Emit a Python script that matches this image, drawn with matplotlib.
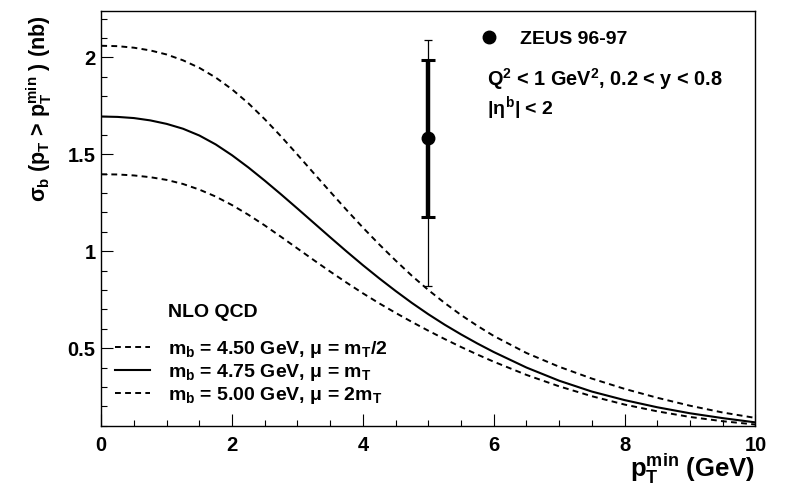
import matplotlib
matplotlib.use("Agg")
import matplotlib.pyplot as plt
from matplotlib.ticker import MultipleLocator

# NLO QCD predictions
pt_min = [0, 0.25, 0.5, 0.75, 1, 1.25, 1.5, 1.75, 2, 2.25, 2.5, 2.75, 3, 3.25, 3.5, 3.75,
          4, 4.25, 4.5, 4.75, 5, 5.25, 5.5, 5.75, 6, 6.5, 7, 7.5, 8, 8.5, 9, 9.5, 10]
sigma_upper = [2.06, 2.058, 2.05, 2.036, 2.015, 1.985, 1.946, 1.896, 1.835, 1.763, 1.681,
               1.592, 1.498, 1.402, 1.307, 1.213, 1.122, 1.035, 0.952, 0.873, 0.800, 0.733,
               0.671, 0.615, 0.563, 0.475, 0.404, 0.343, 0.290, 0.244, 0.203, 0.168, 0.140]
sigma_central = [1.695, 1.693, 1.687, 1.675, 1.657, 1.632, 1.597, 1.551, 1.495, 1.432, 1.364,
                 1.293, 1.220, 1.146, 1.072, 0.999, 0.928, 0.860, 0.795, 0.733, 0.675, 0.621,
                 0.571, 0.524, 0.480, 0.400, 0.332, 0.276, 0.232, 0.195, 0.164, 0.139, 0.117]
sigma_lower = [1.397, 1.396, 1.391, 1.382, 1.368, 1.347, 1.318, 1.282, 1.238, 1.188, 1.133,
               1.074, 1.014, 0.954, 0.895, 0.838, 0.783, 0.731, 0.682, 0.635, 0.590, 0.547,
               0.506, 0.467, 0.430, 0.362, 0.303, 0.252, 0.209, 0.174, 0.145, 0.123, 0.106]

# ZEUS measurement
data_x = [5.0]
data_y = [1.583]
stat_lo = [0.406]
stat_hi = [0.404]
tot_lo = [0.761]
tot_hi = [0.508]

curve_labels = [r"$\mathbf{m_b}$ = 4.50 GeV, $\mu$ = $\mathbf{m_T}$/2",
                r"$\mathbf{m_b}$ = 4.75 GeV, $\mu$ = $\mathbf{m_T}$",
                r"$\mathbf{m_b}$ = 5.00 GeV, $\mu$ = 2$\mathbf{m_T}$"]

plt.rcParams["font.family"] = ["Liberation Sans", "DejaVu Sans"]
plt.rcParams["font.weight"] = "bold"
plt.rcParams["axes.labelweight"] = "bold"
plt.rcParams["mathtext.fontset"] = "custom"
plt.rcParams["mathtext.rm"] = "Liberation Sans:bold"
plt.rcParams["mathtext.bf"] = "Liberation Sans:bold"
plt.rcParams["mathtext.it"] = "Liberation Sans:bold"
plt.rcParams["mathtext.sf"] = "Liberation Sans:bold"

fig = plt.figure(figsize=(7.91, 4.88), dpi=100)
ax = fig.add_axes([0.128, 0.1277, 0.827, 0.850])

dash = (0, (3.0, 2.2))
l_up, = ax.plot(pt_min, sigma_upper, color="black", lw=1.4, linestyle=dash)
l_c, = ax.plot(pt_min, sigma_central, color="black", lw=1.5)
l_lo, = ax.plot(pt_min, sigma_lower, color="black", lw=1.4, linestyle=dash)

ax.errorbar(data_x, data_y, yerr=[tot_lo, tot_hi], fmt="none", ecolor="black",
            elinewidth=0.9, capsize=3.2, capthick=0.9)
ax.errorbar(data_x, data_y, yerr=[stat_lo, stat_hi], fmt="none", ecolor="black",
            elinewidth=3.2, capsize=4.8, capthick=2.2)
pt, = ax.plot(data_x, data_y, "o", color="black", markersize=9)

ax.set_xlim(0, 10)
ax.set_ylim(0.1, 2.24)
ax.xaxis.set_major_locator(MultipleLocator(2))
ax.xaxis.set_minor_locator(MultipleLocator(0.5))
ax.yaxis.set_minor_locator(MultipleLocator(0.1))
ax.set_yticks([0.5, 1, 1.5, 2])
ax.set_yticklabels(["0.5", "1", "1.5", "2"])
ax.tick_params(which="both", direction="in", top=False, right=False, labelsize=14.5)
ax.tick_params(which="major", length=8.5, width=0.8)
ax.tick_params(which="minor", length=4.3, width=0.8)
ax.tick_params(axis="x", pad=7.5)
ax.tick_params(axis="y", pad=4)
for s in ax.spines.values():
    s.set_linewidth(1.0)

ax.set_ylabel(r"$\sigma_\mathbf{b}$ ($\mathbf{p_T}$ > $\mathbf{p_T^{min}}$ ) (nb)",
              fontsize=15.5, loc="top")
ax.yaxis.set_label_coords(-0.072, 0.99)
ax.set_xlabel(r"$\mathbf{p_T^{min}}$ (GeV)", fontsize=18.5, loc="right")
ax.xaxis.set_label_coords(1.0, -0.063)

ax.text(0.102, 0.274, "NLO QCD", transform=ax.transAxes, fontsize=14,
        fontweight="bold", va="center")
leg = ax.legend([l_up, l_c, l_lo], curve_labels, loc="lower left",
                bbox_to_anchor=(0.021, 0.048), frameon=False, fontsize=14,
                handlelength=1.8, handletextpad=0.93, labelspacing=0.1,
                borderaxespad=0.0, borderpad=0.0)
ax.add_artist(leg)

ax.legend([pt], ["ZEUS 96-97"], loc="center left", bbox_to_anchor=(0.578, 0.932),
          frameon=False, fontsize=14, handlelength=1.0, handletextpad=1.1,
          borderaxespad=0.0, borderpad=0.0)
ax.text(0.590, 0.836, r"$\mathbf{Q^2}$ < 1 GeV$^\mathbf{2}$, 0.2 < y < 0.8",
        transform=ax.transAxes, fontsize=14.3, va="center")
ax.text(0.590, 0.766, r"|$\eta^\mathbf{b}$| < 2", transform=ax.transAxes,
        fontsize=14, va="center")

fig.savefig("out.png", dpi=100)
